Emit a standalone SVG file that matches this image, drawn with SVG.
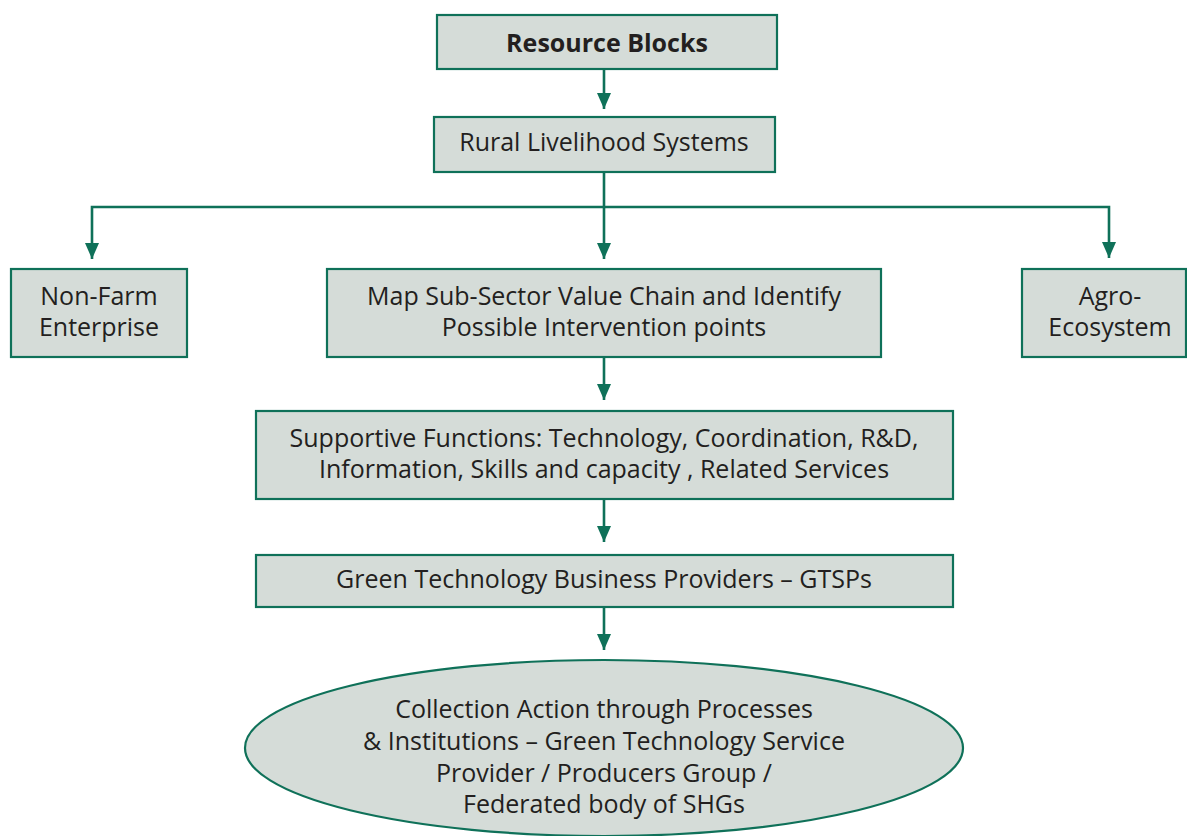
<svg xmlns="http://www.w3.org/2000/svg" width="1187" height="836" viewBox="0 0 1187 836">
<style>
.box{fill:#d5dcd8;stroke:#0f7159;stroke-width:2.2}
.t{font-family:"Open Sans","Noto Sans",sans-serif;font-size:25px;fill:#231f20;text-anchor:middle}
.b{font-weight:bold}
.c{fill:none;stroke:#0f7159;stroke-width:2.6}
</style>
<defs>
<marker id="ah" viewBox="0 0 16 14" refX="16" refY="7" markerWidth="16" markerHeight="14" markerUnits="userSpaceOnUse" orient="auto">
<path d="M0,0 L16,7 L0,14 Z" fill="#0f7159"/>
</marker>
</defs>
<rect width="1187" height="836" fill="#ffffff"/>
<g id="connectors">
<path class="c" d="M604,69 V109" marker-end="url(#ah)"/>
<path class="c" d="M604,172 V259" marker-end="url(#ah)"/>
<path class="c" d="M604,207 H92 V259" marker-end="url(#ah)"/>
<path class="c" d="M604,207 H1109 V258" marker-end="url(#ah)"/>
<path class="c" d="M604,357 V400" marker-end="url(#ah)"/>
<path class="c" d="M604,499 V542" marker-end="url(#ah)"/>
<path class="c" d="M604,607 V650" marker-end="url(#ah)"/>
</g>
<g id="resource-blocks">
<rect class="box" x="437" y="15" width="340" height="54"/>
<text class="t b" x="607" y="52">Resource Blocks</text>
</g>
<g id="rural-livelihood">
<rect class="box" x="434" y="117" width="341" height="55"/>
<text class="t" x="604" y="151">Rural Livelihood Systems</text>
</g>
<g id="non-farm">
<rect class="box" x="11" y="269" width="176" height="88"/>
<text class="t" x="99" y="305">Non-Farm</text>
<text class="t" x="99" y="336">Enterprise</text>
</g>
<g id="map-sub-sector">
<rect class="box" x="327" y="269" width="554" height="88"/>
<text class="t" x="604" y="305">Map Sub-Sector Value Chain and Identify</text>
<text class="t" x="604" y="336">Possible Intervention points</text>
</g>
<g id="agro-ecosystem">
<rect class="box" x="1022" y="269" width="164" height="88"/>
<text class="t" x="1110" y="305">Agro-</text>
<text class="t" x="1110" y="336">Ecosystem</text>
</g>
<g id="supportive-functions">
<rect class="box" x="256" y="411" width="697" height="88"/>
<text class="t" x="604" y="447">Supportive Functions: Technology, Coordination, R&amp;D,</text>
<text class="t" x="604" y="478">Information, Skills and capacity , Related Services</text>
</g>
<g id="green-technology">
<rect class="box" x="256" y="555" width="697" height="52"/>
<text class="t" x="604" y="588">Green Technology Business Providers – GTSPs</text>
</g>
<g id="collective-action">
<ellipse class="box" cx="604" cy="748" rx="359" ry="88"/>
<text class="t" x="604" y="718">Collection Action through Processes</text>
<text class="t" x="604" y="750">&amp; Institutions – Green Technology Service</text>
<text class="t" x="604" y="782">Provider / Producers Group /</text>
<text class="t" x="604" y="813">Federated body of SHGs</text>
</g>
</svg>
